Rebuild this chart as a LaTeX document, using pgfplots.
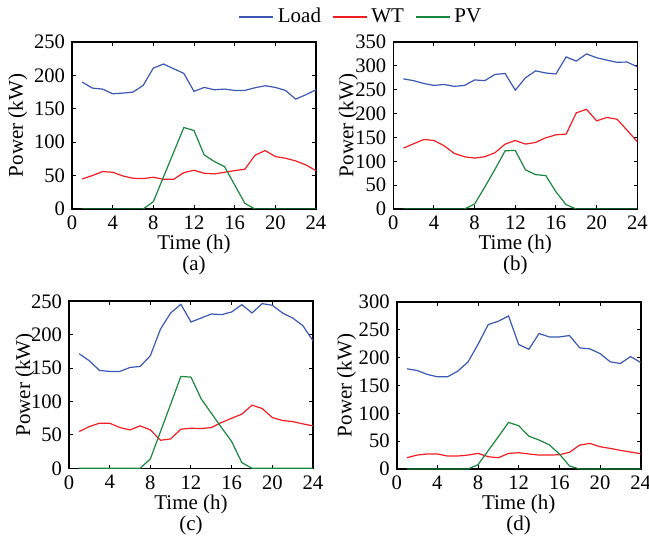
\documentclass[border=0pt]{standalone}
\usepackage{fontspec}
\setmainfont{Liberation Serif}
\usepackage{pgfplots}
\usepackage{pgfplotstable}
\pgfplotsset{compat=1.18}
\definecolor{cload}{RGB}{58,88,180}
\definecolor{cwt}{RGB}{240,30,35}
\definecolor{cpv}{RGB}{25,135,60}

\pgfplotstableread{
t Load WT PV
1 190 45 0
2 181 50 0
3 179.5 56 0
4 172.5 55 0
5 173.5 49.5 0
6 175 46 0
7 185 45.5 0
8 211 47.5 11
9 217 44.5 48
10 210 44.5 85
11 203 54.5 122
12 176 58 117.5
13 182 53.5 81
14 178.5 52.5 71
15 179.5 55 63.5
16 177.5 57.5 36
17 177.5 59.5 8.5
18 181.5 80.5 0
19 184.5 87.5 0
20 182 78.5 0
21 177.5 76 0
22 164.5 72 0
23 171 66 0
24 178.5 57.5 0
}\tA

\pgfplotstableread{
t Load WT PV
1 272.6 127.6 0
2 269 136.7 0
3 263 145.7 0
4 259 143.6 0
5 261 132.5 0
6 257 116.5 0
7 259 109.5 0
8 270.5 106.7 10.5
9 269 109.5 46
10 282 117.9 83
11 284 136 122
12 249 143.6 122.7
13 275 136 82
14 289.5 139.5 72
15 285 149.2 70
16 283 155.5 36
17 318.7 157 9
18 310 201.5 0
19 325 209 0
20 317 184.8 0
21 312 191.8 0
22 307.5 188.3 0
23 308 165 0
24 298 141 0
}\tB

\pgfplotstableread{
t Load WT PV
1 171.5 55 0
2 161 62.5 0
3 146.5 67.5 0
4 145 67.5 0
5 145 61 0
6 151 57.5 0
7 152.5 63.5 0
8 168.5 57.5 14
9 208.5 42 55
10 232.5 44 96
11 245.5 58.5 137.5
12 219 60 136.5
13 225 59.5 104
14 231 61 82.5
15 230 68.5 61
16 234 75 40
17 245 81 8.5
18 232.5 94.5 0
19 246.5 89.5 0
20 244 76 0
21 232.5 71.5 0
22 225 70 0
23 213.5 66.5 0
24 191 63.5 0
}\tC

\pgfplotstableread{
t Load WT PV
1 180 20.3 0
2 177 25 0
3 170 27 0
4 165.6 27 0
5 165.6 23.3 0
6 175.7 23.3 0
7 191.9 25 0
8 224 28 7.8
9 259.4 22 33
10 265.4 20.3 58
11 275 28 83.7
12 223.6 29.3 77.7
13 215 27 59
14 243.3 25 52
15 237.3 25 43.6
16 237.3 25.7 27
17 239.7 30 5.4
18 217.6 43 0
19 215.8 46 0
20 207.4 40 0
21 192.5 37 0
22 189.5 33.5 0
23 202 30.5 0
24 191.3 27.5 0
}\tD

\pgfplotsset{
  every axis/.style={
    scale only axis,
    width=122pt, height=83.5pt,
    anchor=south west,
    xmin=0, xmax=24,
    ymin=0,
    xtick={0,4,...,24},
    tick align=inside,
    major tick length=1.8pt,
    axis line style={line width=0.8pt},
    every tick/.style={black, line width=0.5pt},
    tick label style={font=\rmfamily\fontsize{10.3}{12}\selectfont},
    label style={font=\rmfamily\fontsize{10.5}{12}\selectfont},
    /pgf/number format/assume math mode=true,
    xlabel={Time (h)},
    ylabel={Power (kW)},
    xlabel style={at={(axis description cs:0.5,-0.215)}, anchor=center},
    clip mode=individual,
  },
  every axis plot/.append style={line width=0.6pt, mark=none},
}

\begin{document}
\begin{tikzpicture}
\path[use as bounding box] (0,0) rectangle (324.5pt,271pt);

% (a)
\begin{axis}[at={(36pt,166.5pt)}, ymax=250, ytick={0,50,...,250},
  ylabel style={at={(axis description cs:-0.222,0.5)}, anchor=center},
  legend columns=3,
  legend style={draw=none, fill=none, at={(axis description cs:1.188,1.15)}, anchor=center,
    font=\rmfamily\fontsize{10.5}{12}\selectfont,
    /tikz/every even column/.append style={column sep=3.5pt}},
  legend cell align=left]
\addplot[cload] table[x=t,y=Load]{\tA};
\addplot[cwt] table[x=t,y=WT]{\tA};
\addplot[cpv] table[x=t,y=PV]{\tA};
\legend{Load, WT, PV}
\node[font=\rmfamily\fontsize{10.5}{12}\selectfont] at (axis description cs:0.5,-0.341) {(a)};
\end{axis}

% (b)
\begin{axis}[at={(196.65pt,166.5pt)}, ymax=350, ytick={0,50,...,350},
  ylabel style={at={(axis description cs:-0.184,0.5)}, anchor=center}]
\addplot[cload] table[x=t,y=Load]{\tB};
\addplot[cwt] table[x=t,y=WT]{\tB};
\addplot[cpv] table[x=t,y=PV]{\tB};
\node[font=\rmfamily\fontsize{10.5}{12}\selectfont] at (axis description cs:0.5,-0.341) {(b)};
\end{axis}

% (c)
\begin{axis}[at={(34.5pt,36.85pt)}, ymax=250, ytick={0,50,...,250},
  ylabel style={at={(axis description cs:-0.18,0.5)}, anchor=center}]
\addplot[cload] table[x=t,y=Load]{\tC};
\addplot[cwt] table[x=t,y=WT]{\tC};
\addplot[cpv] table[x=t,y=PV]{\tC};
\node[font=\rmfamily\fontsize{10.5}{12}\selectfont] at (axis description cs:0.5,-0.341) {(c)};
\end{axis}

% (d)
\begin{axis}[at={(198.35pt,36.5pt)}, ymax=300, ytick={0,50,...,300},
  ylabel style={at={(axis description cs:-0.205,0.5)}, anchor=center}]
\addplot[cload] table[x=t,y=Load]{\tD};
\addplot[cwt] table[x=t,y=WT]{\tD};
\addplot[cpv] table[x=t,y=PV]{\tD};
\node[font=\rmfamily\fontsize{10.5}{12}\selectfont] at (axis description cs:0.5,-0.341) {(d)};
\end{axis}
\end{tikzpicture}
\end{document}
